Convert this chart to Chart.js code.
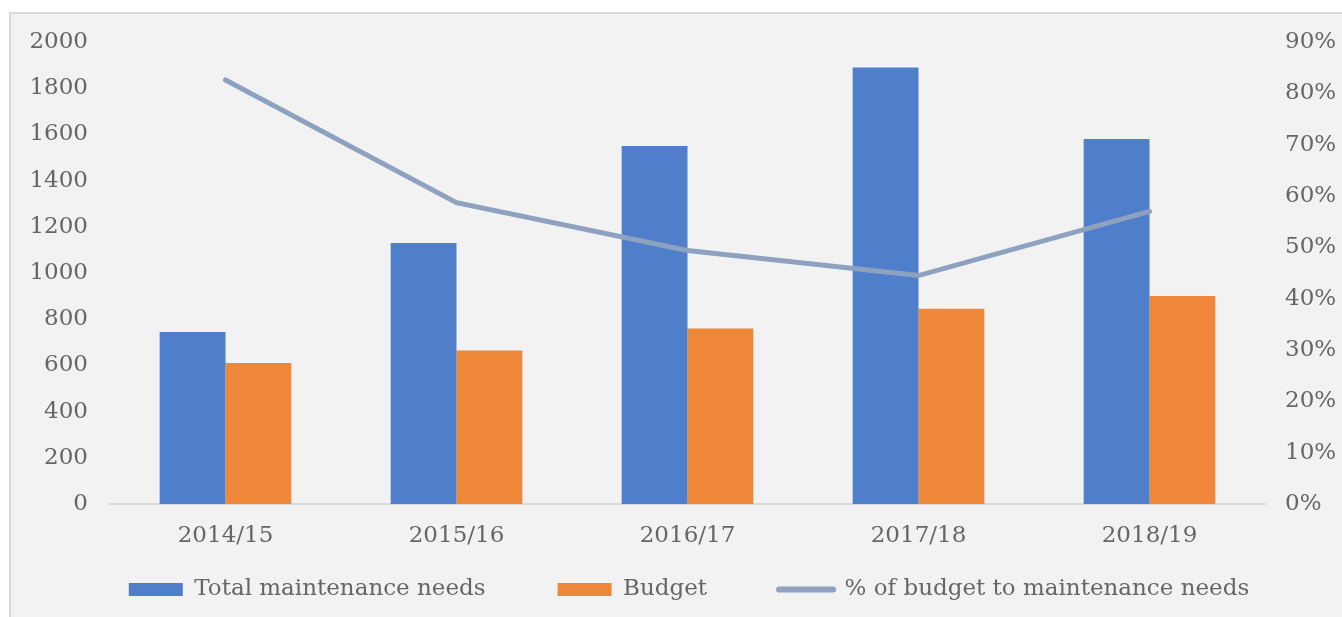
<!DOCTYPE html>
<html>
<head>
<meta charset="utf-8">
<script src="https://cdn.jsdelivr.net/npm/chart.js@4"></script>
<style>
  html, body { margin: 0; padding: 0; background: #fff; }
  #frame {
    position: absolute; left: 9px; top: 12px; width: 1333px; height: 605px;
    background: #f2f2f2; border-left: 2px solid #d9d9d9; border-top: 2px solid #d9d9d9;
    box-sizing: border-box;
  }
  #wrap { position: absolute; left: 0; top: 0; width: 1342px; height: 617px; }
</style>
</head>
<body>
<div id="frame"></div>
<div id="wrap"><canvas id="comboChart"></canvas></div>
<script>
const years = ["2014/15", "2015/16", "2016/17", "2017/18", "2018/19"];
const maintenanceNeeds = [745, 1130, 1550, 1890, 1580];
const budget = [610, 665, 760, 845, 900];
const budgetShare = [82.6, 58.7, 49.4, 44.5, 57.0];

const serif = "'DejaVu Serif', 'Liberation Serif', serif";
const textColor = "#666666";
const fontSize = 23;

// scales clip their labels to their own box; widen the boxes after layout
const unclipLabels = {
  id: "unclipLabels",
  afterLayout(chart) {
    chart.scales.x.bottom = chart.height;
    chart.scales.y.left = 0;
  },
};

const comboChart = document.getElementById("comboChart");

new Chart(comboChart, {
  type: "bar",
  data: {
    labels: years,
    datasets: [
      {
        type: "line",
        label: "% of budget to maintenance needs",
        data: budgetShare,
        yAxisID: "yPct",
        borderColor: "#8ea2bf",
        backgroundColor: "#8ea2bf",
        borderWidth: 5,
        borderCapStyle: "round",
        pointRadius: 0,
        tension: 0,
        order: 0,
      },
      {
        label: "Total maintenance needs",
        data: maintenanceNeeds,
        yAxisID: "y",
        backgroundColor: "#4f7fcb",
        categoryPercentage: 0.57,
        barPercentage: 1.0,
        order: 1,
      },
      {
        label: "Budget",
        data: budget,
        yAxisID: "y",
        backgroundColor: "#ef8739",
        categoryPercentage: 0.57,
        barPercentage: 1.0,
        order: 1,
      },
    ],
  },
  plugins: [unclipLabels],
  options: {
    responsive: true,
    maintainAspectRatio: false,
    animation: false,
    layout: { padding: { top: 42, bottom: 6, left: 36, right: 0 } },
    plugins: {
      tooltip: { enabled: false },
      legend: {
        position: "bottom",
        labels: {
          color: textColor,
          font: { family: serif, size: fontSize },
          usePointStyle: true,
          pointStyleWidth: 54,
          boxHeight: 13,
          padding: 72,
          generateLabels(chart) {
            const items = Chart.defaults.plugins.legend.labels.generateLabels(chart);
            items.forEach((it) => {
              if (it.datasetIndex === 0) {
                it.pointStyle = "line";
                it.lineCap = "round";
                it.lineWidth = 6;
              } else {
                it.pointStyle = "rect";
                it.lineWidth = 0;
              }
            });
            // bars first, line last, like the original
            items.sort((a, b) => {
              const rank = (i) => (i === 0 ? 3 : i);
              return rank(a.datasetIndex) - rank(b.datasetIndex);
            });
            return items;
          },
        },
      },
    },
    scales: {
      x: {
        grid: { display: false, drawTicks: false },
        border: { color: "#d9d9d9", width: 2 },
        ticks: { color: textColor, font: { family: serif, size: fontSize }, padding: 18 },
        afterFit(scale) { scale.height = 2; },
      },
      y: {
        position: "left",
        min: 0,
        max: 2000,
        grid: { display: false, drawTicks: false },
        border: { display: false },
        ticks: {
          stepSize: 200,
          color: textColor,
          font: { family: serif, size: fontSize },
          padding: 22,
          callback: (v) => String(v),
        },
        afterFit(scale) { scale.width = 74; },
      },
      yPct: {
        position: "right",
        min: 0,
        max: 90,
        grid: { display: false, drawTicks: false },
        border: { display: false },
        ticks: {
          stepSize: 10,
          color: textColor,
          font: { family: serif, size: fontSize },
          padding: 20,
          callback: (v) => v + "%",
        },
        afterFit(scale) { scale.width = 77; },
      },
    },
  },
});
</script>
</body>
</html>
